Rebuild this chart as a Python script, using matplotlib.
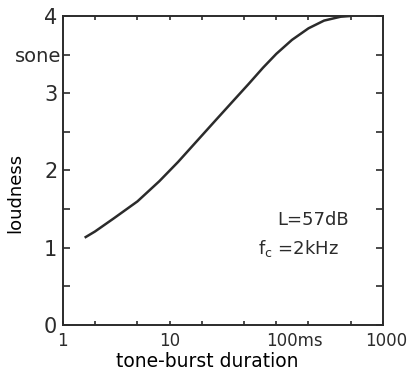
#!/usr/bin/env python3
"""Loudness of a tone burst as a function of its duration."""

import matplotlib

matplotlib.use("Agg", force=True)

import matplotlib.pyplot as plt
from matplotlib.ticker import FixedLocator, NullFormatter
from matplotlib.transforms import ScaledTranslation

# values
duration_ms = [1.6, 2, 3, 5, 8, 12, 18, 27, 40, 55, 75, 100, 140, 200, 280, 400, 500]
loudness_sone = [1.13, 1.21, 1.38, 1.60, 1.86, 2.11, 2.38, 2.65, 2.91, 3.12, 3.33,
                 3.51, 3.69, 3.84, 3.94, 3.99, 4.0]

x_major = [1, 10, 100, 1000]
x_major_labels = ["1", "10", "100ms", "1000"]
x_minor = [2, 5, 20, 50, 200, 500]
y_major = [0, 1, 2, 3, 3.5, 4]
y_major_labels = ["0", "1", "2", "3", "sone", "4"]
y_minor = [0.5, 1.5, 2.5]

INK = "#2b2b2b"

plt.rcParams.update({
    "font.family": "DejaVu Sans",
    "mathtext.default": "regular",
    "text.color": INK,
    "axes.edgecolor": INK,
    "xtick.color": INK,
    "ytick.color": INK,
})

fig = plt.figure(figsize=(4.08, 3.71), dpi=100)
ax = fig.add_axes([0.154, 0.124, 0.785, 0.833])

ax.plot(duration_ms, loudness_sone, color=INK, lw=1.8, solid_capstyle="butt",
        solid_joinstyle="round")

ax.set_xscale("log")
ax.set_xlim(1, 1000)
ax.set_ylim(0, 4)

ax.xaxis.set_major_locator(FixedLocator(x_major))
ax.set_xticklabels(x_major_labels)
ax.xaxis.set_minor_locator(FixedLocator(x_minor))
ax.xaxis.set_minor_formatter(NullFormatter())
ax.set_yticks(y_major)
ax.set_yticklabels(y_major_labels)
ax.yaxis.set_minor_locator(FixedLocator(y_minor))

for spine in ax.spines.values():
    spine.set_linewidth(1.4)

ax.tick_params(which="both", direction="in", top=True, right=True, width=1.2)
ax.tick_params(axis="x", which="both", length=3, labelsize=12, pad=5)
ax.tick_params(axis="y", which="both", length=5, labelsize=15, pad=4)

# the "100ms" label sits with its digits to the right of the tick
for lbl in ax.get_xticklabels():
    if lbl.get_text() == "100ms":
        lbl.set_horizontalalignment("left")
        lbl.set_transform(lbl.get_transform() + ScaledTranslation(-0.10, 0, fig.dpi_scale_trans))
    if lbl.get_text() == "1000":
        lbl.set_transform(lbl.get_transform() + ScaledTranslation(0.03, 0, fig.dpi_scale_trans))
for lbl in ax.get_yticklabels():
    if lbl.get_text() == "sone":
        lbl.set_fontsize(14)
        lbl.set_transform(lbl.get_transform() + ScaledTranslation(0.04, 0, fig.dpi_scale_trans))

ax.set_xlabel("tone-burst duration", fontsize=13.5)
ax.xaxis.set_label_coords(0.45, -0.088)
ax.set_ylabel("loudness", fontsize=13)
ax.yaxis.set_label_coords(-0.12, 0.427)

ax.text(0.669, 0.34, "L=57dB", transform=ax.transAxes, fontsize=13, va="center", ha="left")
ax.text(0.609, 0.249, "f$_c$ =2kHz", transform=ax.transAxes, fontsize=13, va="center", ha="left")

fig.savefig("out.png", dpi=100)
